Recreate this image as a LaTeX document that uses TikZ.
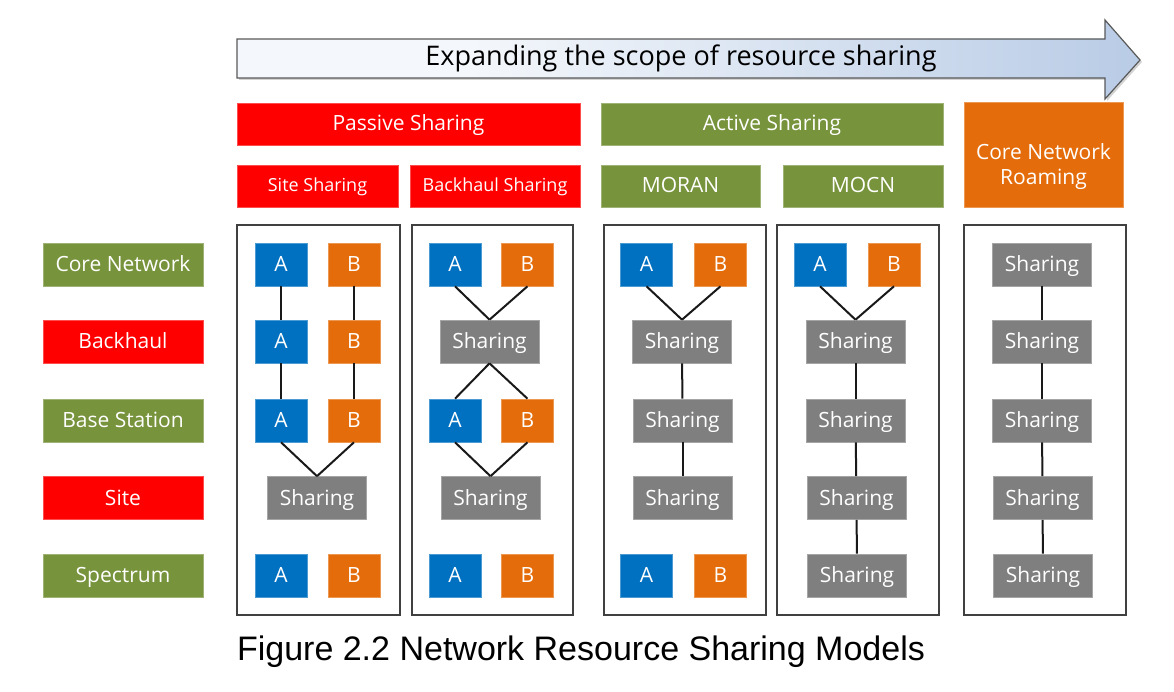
\documentclass[tikz,border=0pt]{standalone}
\usepackage{fontspec}
\setmainfont{Open Sans}
\newfontfamily\capfont{Liberation Sans}
\usetikzlibrary{shadows}
\definecolor{cred}{HTML}{FF0000}
\definecolor{cgreen}{HTML}{77933C}
\definecolor{corange}{HTML}{E46C0A}
\definecolor{cblue}{HTML}{0070C0}
\definecolor{cgray}{HTML}{7F7F7F}
\definecolor{ashA}{HTML}{F4F7FB}
\definecolor{ashB}{HTML}{B4C8E4}
\definecolor{ashC}{HTML}{C8D6EA}
\pgfdeclarehorizontalshading{arrowsh}{100bp}{color(0bp)=(ashA); color(38bp)=(ashA); color(78bp)=(ashB); color(93bp)=(ashB); color(100bp)=(ashC)}
\begin{document}
\begin{tikzpicture}[x=1pt,y=-1pt,
  base/.style={inner sep=0pt, text=white, font=\fontsize{21}{25}\selectfont, text height=15pt, text depth=1pt, draw=#1!70!white, fill=#1, line width=0.6pt},
  rowlab/.style={base=#1, minimum width=160pt, minimum height=43pt},
  hdr/.style={base=#1, minimum height=42pt},
  abox/.style={base=cblue, minimum width=52pt, minimum height=43pt},
  bbox/.style={base=corange, minimum width=52pt, minimum height=43pt},
  shbox/.style={base=cgray, minimum width=99pt, minimum height=43pt},
  frame/.style={draw=black!75, line width=1.4pt, minimum width=#1, minimum height=390pt, inner sep=0pt},
  link/.style={draw=black!90, line width=2pt},
 ]
\useasboundingbox (0,0) rectangle (1174,692);

% big arrow
\path[shading=arrowsh, draw=black!65, line width=1.2pt,
  drop shadow={opacity=0.35, shadow xshift=2pt, shadow yshift=-2pt}]
  (237,39) -- (1105,39) -- (1105,20) -- (1140,60) -- (1105,99) -- (1105,78) -- (237,78) -- cycle;
\node[font=\fontsize{27}{32}\selectfont, inner sep=0pt] (arrtxt) at (681,58) {Expanding the scope of resource sharing};

% headers
\node[hdr=cred, minimum width=343pt] (passive) at (408.5,124) {Passive Sharing};
\node[hdr=cgreen, minimum width=342pt] (active) at (772,124) {Active Sharing};
\node[hdr=cred, minimum width=161pt, font=\fontsize{18}{22}\selectfont, text height=13pt] (site) at (317.5,186) {Site Sharing};
\node[hdr=cred, minimum width=170pt, font=\fontsize{18}{22}\selectfont, text height=13pt] (bhs) at (495,186) {Backhaul Sharing};
\node[hdr=cgreen, minimum width=159pt] (moran) at (680.5,186) {MORAN};
\node[hdr=cgreen, minimum width=160pt] (mocn) at (863,186) {MOCN};
\node[hdr=corange, minimum width=159pt, minimum height=105pt] (cnr) at (1043.5,154.5) {};
\node[inner sep=0pt, text=white, align=center, font=\fontsize{21}{25}\selectfont] (cnrtxt) at (1043.5,167) {Core Network\\Roaming};

% row labels
\node[rowlab=cgreen] (l1) at (123,264.5) {Core Network};
\node[rowlab=cred] (l2) at (123,341.5) {Backhaul};
\node[rowlab=cgreen] (l3) at (123,420.5) {Base Station};
\node[rowlab=cred] (l4) at (123,498) {Site};
\node[rowlab=cgreen] (l5) at (123,575.5) {Spectrum};

% frames
\node[frame=163pt] (f1) at (318.5,420) {};
\node[frame=161pt] (f2) at (492.5,420) {};
\node[frame=162pt] (f3) at (685,420) {};
\node[frame=162pt] (f4) at (858,420) {};
\node[frame=162pt] (f5) at (1045,420) {};

% column 1: site sharing
\node[abox] (c1a1) at (281,264.5) {A};
\node[bbox] (c1b1) at (354,264.5) {B};
\node[abox] (c1a2) at (281,341.5) {A};
\node[bbox] (c1b2) at (354,341.5) {B};
\node[abox] (c1a3) at (281,420.5) {A};
\node[bbox] (c1b3) at (354,420.5) {B};
\node[shbox] (c1s4) at (317,498) {Sharing};
\node[abox] (c1a5) at (281,575.5) {A};
\node[bbox] (c1b5) at (354,575.5) {B};
\draw[link] (c1a1) -- (c1a2);
\draw[link] (c1a2) -- (c1a3);
\draw[link] (c1b1) -- (c1b2);
\draw[link] (c1b2) -- (c1b3);
\draw[link] (c1a3.south) -- (c1s4.north);
\draw[link] (c1b3.south) -- (c1s4.north);

% column 2: backhaul sharing
\node[abox] (c2a1) at (455,264.5) {A};
\node[bbox] (c2b1) at (527.5,264.5) {B};
\node[shbox] (c2s2) at (489.5,341.5) {Sharing};
\node[abox] (c2a3) at (455,420.5) {A};
\node[bbox] (c2b3) at (527.5,420.5) {B};
\node[shbox] (c2s4) at (490.5,498) {Sharing};
\node[abox] (c2a5) at (455,575.5) {A};
\node[bbox] (c2b5) at (527.5,575.5) {B};
\draw[link] (c2a1.south) -- (c2s2.north);
\draw[link] (c2b1.south) -- (c2s2.north);
\draw[link] (c2s2.south) -- (c2a3.north);
\draw[link] (c2s2.south) -- (c2b3.north);
\draw[link] (c2a3.south) -- (c2s4.north);
\draw[link] (c2b3.south) -- (c2s4.north);

% column 3: MORAN
\node[abox] (c3a1) at (646.5,264.5) {A};
\node[bbox] (c3b1) at (720.5,264.5) {B};
\node[shbox] (c3s2) at (682,341.5) {Sharing};
\node[shbox] (c3s3) at (682.5,420.5) {Sharing};
\node[shbox] (c3s4) at (682.5,498) {Sharing};
\node[abox] (c3a5) at (646.5,575.5) {A};
\node[bbox] (c3b5) at (720.5,575.5) {B};
\draw[link] (c3a1.south) -- (c3s2.north);
\draw[link] (c3b1.south) -- (c3s2.north);
\draw[link] (c3s2) -- (c3s3);
\draw[link] (c3s3) -- (c3s4);

% column 4: MOCN
\node[abox] (c4a1) at (820,264.5) {A};
\node[bbox] (c4b1) at (894,264.5) {B};
\node[shbox] (c4s2) at (855.5,341.5) {Sharing};
\node[shbox] (c4s3) at (855.5,420.5) {Sharing};
\node[shbox] (c4s4) at (856.5,498) {Sharing};
\node[shbox] (c4s5) at (857,575.5) {Sharing};
\draw[link] (c4a1.south) -- (c4s2.north);
\draw[link] (c4b1.south) -- (c4s2.north);
\draw[link] (c4s2) -- (c4s3);
\draw[link] (c4s3) -- (c4s4);
\draw[link] (c4s4) -- (c4s5);

% column 5: core network roaming
\node[shbox] (c5s1) at (1042,264.5) {Sharing};
\node[shbox] (c5s2) at (1042,341.5) {Sharing};
\node[shbox] (c5s3) at (1042,420.5) {Sharing};
\node[shbox] (c5s4) at (1042.5,498) {Sharing};
\node[shbox] (c5s5) at (1043,575.5) {Sharing};
\draw[link] (c5s1) -- (c5s2);
\draw[link] (c5s2) -- (c5s3);
\draw[link] (c5s3) -- (c5s4);
\draw[link] (c5s4) -- (c5s5);

% caption
\node[font=\capfont\fontsize{34}{40}\selectfont, inner sep=0pt] (caption) at (581,652) {Figure 2.2 Network Resource Sharing Models};
\end{tikzpicture}
\end{document}
